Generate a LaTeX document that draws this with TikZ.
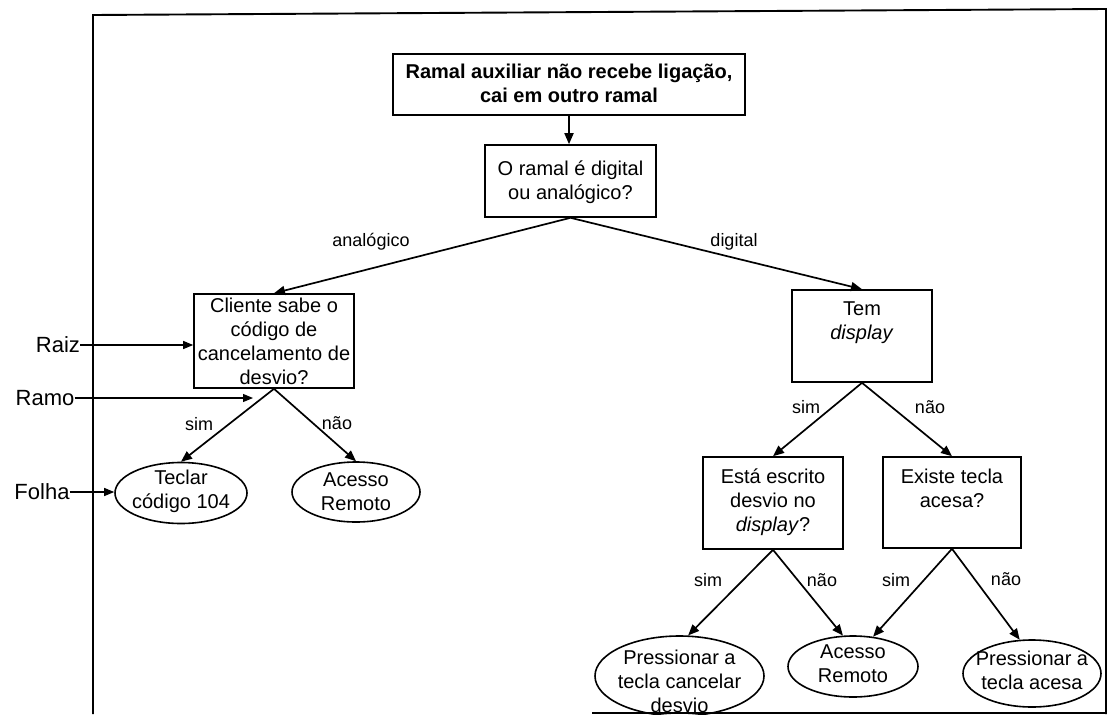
\documentclass[tikz,border=0pt]{standalone}
\usepackage{fontspec}
\setmainfont{Liberation Sans}
\usetikzlibrary{arrows.meta,shapes.geometric}

% Text block for a node: #1 = height of the first baseline above the node centre
\newcommand\nodetext[2]{\makebox[0pt]{\raisebox{#1}[0pt][0pt]{\parbox[t]{420pt}{\centering #2}}}}

\tikzset{
  decision/.style={draw, line width=1.6pt, rectangle, inner sep=0pt,
    font=\fontsize{20}{24}\selectfont},
  leaf/.style={draw, line width=1.6pt, ellipse, inner sep=0pt,
    font=\fontsize{20}{24}\selectfont},
  conn/.style={line width=1.7pt, -{Triangle[length=11pt,width=9pt]}},
  pointer/.style={line width=1.1pt, -{Triangle[length=10pt,width=8pt]}},
  lbl/.style={inner sep=0pt, font=\fontsize{18}{21}\selectfont},
  term/.style={inner sep=0pt, font=\fontsize{22}{26}\selectfont},
  frame/.style={line width=1.9pt}
}

\begin{document}
\begin{tikzpicture}[x=1pt, y=-1pt]
\useasboundingbox (0,0) rectangle (1109,715);

% outer frame
\draw[frame] (93,714) -- (93,15) -- (1106,9) -- (1106,714);
\draw[frame] (592,713) -- (1106,713);

% decision boxes
\node[decision, minimum width=352pt, minimum height=61pt,
      font=\fontsize{20}{24}\selectfont\bfseries] (top) at (569,84.5)
  {\nodetext{6pt}{Ramal auxiliar não recebe ligação,\\cai em outro ramal}};
\node[decision, minimum width=171pt, minimum height=72pt] (q1) at (570.5,181)
  {\nodetext{6pt}{O ramal é digital\\ou analógico?}};
\node[decision, minimum width=160pt, minimum height=94pt] (cli) at (274,341)
  {\nodetext{29pt}{Cliente sabe o\\código de\\cancelamento de\\desvio?}};
\node[decision, minimum width=140pt, minimum height=92pt] (tem) at (862,336)
  {\nodetext{21pt}{Tem\\\textit{display}}};
\node[decision, minimum width=140pt, minimum height=92pt] (esta) at (773,503)
  {\nodetext{20pt}{Está escrito\\desvio no\\\textit{display}?}};
\node[decision, minimum width=138pt, minimum height=91pt] (existe) at (952,502.5)
  {\nodetext{19.5pt}{Existe tecla\\acesa?}};

% leaves
\node[leaf, minimum width=132pt, minimum height=61pt] (teclar) at (181,493)
  {\nodetext{9pt}{Teclar\\código 104}};
\node[leaf, minimum width=128pt, minimum height=60pt] (ar1) at (356,492)
  {\nodetext{6pt}{Acesso\\Remoto}};
\node[leaf, minimum width=169pt, minimum height=80pt] (pc) at (679.5,676)
  {\nodetext{12pt}{Pressionar a\\tecla cancelar\\desvio}};
\node[leaf, minimum width=130pt, minimum height=61pt] (ar2) at (853,666.5)
  {\nodetext{8.5pt}{Acesso\\Remoto}};
\node[leaf, minimum width=138pt, minimum height=67pt] (pa) at (1032,673.5)
  {\nodetext{8.5pt}{Pressionar a\\tecla acesa}};

% connectors
\draw[conn] (top.south) -- (top.south |- q1.north);
\draw[conn] (q1.south) -- (cli.north);
\draw[conn] (q1.south) -- (tem.north);
\draw[conn] (cli.south) -- (teclar.north);
\draw[conn] (cli.south) -- (ar1.north);
\draw[conn] (tem.south) -- (esta.north);
\draw[conn] (tem.south) -- (existe.north);
\draw[conn] (esta.south) -- (pc.78);
\draw[conn] (esta.south) -- (ar2.108);
\draw[conn] (existe.south) -- (ar2.56);
\draw[conn] (existe.south) -- (pa.110);

% branch labels
\node[lbl] (lana) at (371,242) {analógico};
\node[lbl] (ldig) at (734,242) {digital};
\node[lbl] (ls1) at (199,424) {sim};
\node[lbl] (ln1) at (337,423) {não};
\node[lbl] (ls2) at (806,407) {sim};
\node[lbl] (ln2) at (930,407) {não};
\node[lbl] (ls3) at (708,580) {sim};
\node[lbl] (ln3) at (822,580) {não};
\node[lbl] (ls4) at (896,580) {sim};
\node[lbl] (ln4) at (1006,579) {não};

% terminology pointers
\node[term] (raiz) at (58,345) {Raiz};
\node[term] (ramo) at (45,398) {Ramo};
\node[term] (folha) at (42,492) {Folha};
\coordinate (ramotip) at (253,398);
\draw[pointer] (raiz.east) -- (raiz.east -| cli.west);
\draw[pointer] (ramo.east) -- (ramotip);
\draw[pointer] (folha.east) -- (folha.east -| teclar.west);
\end{tikzpicture}
\end{document}
